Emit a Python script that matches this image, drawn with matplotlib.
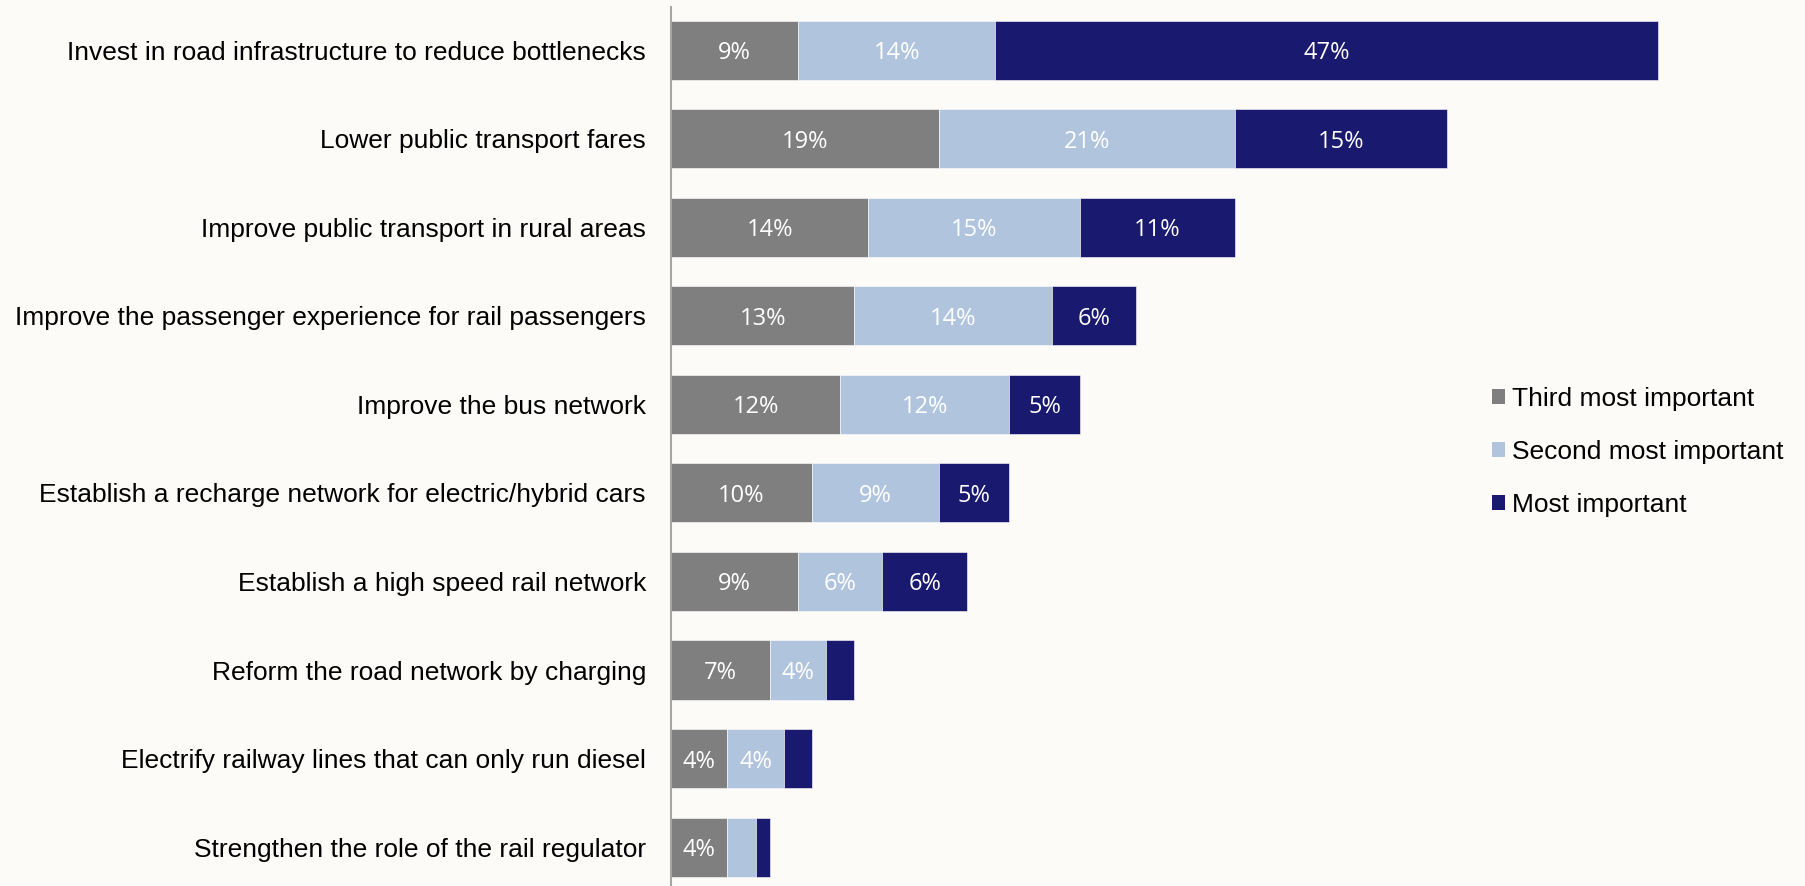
import matplotlib
matplotlib.use('Agg')
from matplotlib import pyplot as plt
from matplotlib.patches import Patch

categories = ['Invest in road infrastructure to reduce bottlenecks',
              'Lower public transport fares',
              'Improve public transport in rural areas',
              'Improve the passenger experience for rail passengers',
              'Improve the bus network',
              'Establish a recharge network for electric/hybrid cars',
              'Establish a high speed rail network',
              'Reform the road network by charging',
              'Electrify railway lines that can only run diesel',
              'Strengthen the role of the rail regulator']
third = [9, 19, 14, 13, 12, 10, 9, 7, 4, 4]
second = [14, 21, 15, 14, 12, 9, 6, 4, 4, 2]
most = [47, 15, 11, 6, 5, 5, 6, 2, 2, 1]

series = [('Third most important', third, '#7f7f7f'),
          ('Second most important', second, '#b0c4de'),
          ('Most important', most, '#191970')]

bg = '#fcfbf8'
fig = plt.figure(figsize=(18.06, 8.86), dpi=100, facecolor=bg)
ax = fig.add_axes([671 / 1806, 0, (1700 - 671) / 1806, 1 - 7 / 886])
ax.set_facecolor(bg)

y = list(range(len(categories)))
left = [0] * len(categories)
for name, vals, col in series:
    ax.barh(y, vals, left=left, height=0.667, color=col,
            edgecolor='white', linewidth=0.4)
    for i, v in enumerate(vals):
        if v >= 3:
            ax.text(left[i] + v / 2, i, f'{v}%', ha='center', va='center_baseline',
                    color='white', fontsize=17, family='Open Sans')
    left = [a + b for a, b in zip(left, vals)]

ax.set_ylim(9.44, -0.49)
ax.set_xlim(0, (1700 - 671) / 14.1)
ax.set_yticks(y)
ax.set_yticklabels(categories, fontsize=19, family='Liberation Sans')
ax.tick_params(axis='y', length=0, pad=18)
ax.set_xticks([])
for s in ['top', 'right', 'bottom']:
    ax.spines[s].set_visible(False)
ax.spines['left'].set_color('#a6a6a6')
ax.spines['left'].set_linewidth(1.5)

handles = [Patch(facecolor=c, edgecolor='none') for _, _, c in series]
labels = [n for n, _, _ in series]
fig.legend(handles, labels, loc='center left',
           bbox_to_anchor=(1492 / 1806, 1 - 452 / 886),
           frameon=False, borderpad=0, borderaxespad=0,
           handlelength=0.48, handleheight=0.48, handletextpad=0.28,
           labelspacing=1.1, prop={'family': 'Liberation Sans', 'size': 19})

fig.savefig('out.png', dpi=100, facecolor=bg)
